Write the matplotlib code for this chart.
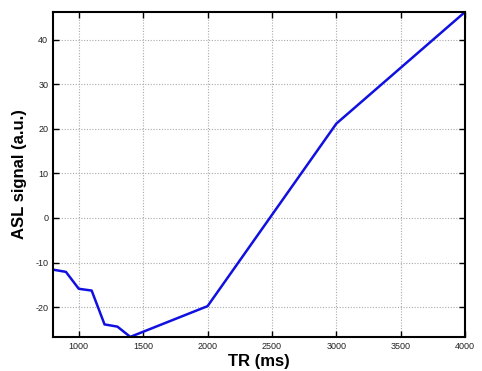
import numpy as np
import matplotlib
matplotlib.use('agg')
import matplotlib.pyplot as plt

plt.rcParams['font.family'] = ['Liberation Sans', 'DejaVu Sans']
plt.rcParams['axes.unicode_minus'] = False

tr = [800, 900, 1000, 1100, 1200, 1300, 1400, 2000, 3000, 4000]
asl = [-11.6, -12.1, -15.9, -16.3, -23.9, -24.4, -26.7, -19.8, 21.2, 46.3]

fig = plt.figure(figsize=(4.82, 3.71), dpi=100)
ax = fig.add_axes([0.110, 0.092, 0.855, 0.876])
ax.plot(tr, asl, color='#1010e0', linewidth=1.8)
ax.set_xlim(min(tr), max(tr))
ax.set_ylim(min(asl), max(asl))
ax.set_xticks([1000, 1500, 2000, 2500, 3000, 3500, 4000])
ax.set_yticks([-20, -10, 0, 10, 20, 30, 40])
ax.grid(True, linestyle=(0, (1, 1.5)), color='#aaaaaa', linewidth=0.8)
ax.tick_params(direction='in', top=True, right=True, labelsize=6.5, length=4, width=1,
               labelcolor='#222222')
for s in ax.spines.values():
    s.set_linewidth(1.5)
ax.set_xlabel('TR (ms)', fontsize=12, fontweight='bold', labelpad=2)
ax.set_ylabel('ASL signal (a.u.)', fontsize=12, fontweight='bold', labelpad=6)
fig.savefig('out.png', dpi=100)
